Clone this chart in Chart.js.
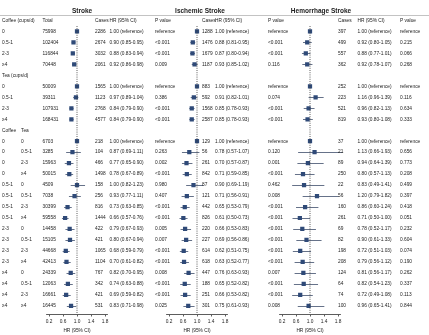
<!DOCTYPE html>
<html lang="en">
<head>
<meta charset="UTF-8">
<title>Coffee, tea and stroke</title>
<script src="https://cdn.jsdelivr.net/npm/chart.js"></script>
<style>
    body { margin: 0; background: #fff; }
    .wrap { position: relative; width: 429px; height: 335px; }
    canvas { position: absolute; left: 0; top: 0; }
</style>
</head>
<body>
<div class="wrap">
    <canvas id="p1" width="429" height="335"></canvas>
    <canvas id="p2" width="429" height="335"></canvas>
    <canvas id="p3" width="429" height="335"></canvas>
</div>
<script>
// row labels (row 0 is the column header line)
const labelA = ['Coffee (cups/d)', '0', '0.5-1', '2-3', '≥4', 'Tea (cups/d)', '0', '0.5-1', '2-3', '≥4', 'Coffee',
    '0', '0', '0', '0', '0.5-1', '0.5-1', '0.5-1', '0.5-1', '2-3', '2-3', '2-3', '2-3', '≥4', '≥4', '≥4', '≥4'];
const labelB = ['', '', '', '', '', '', '', '', '', '', 'Tea',
    '0', '0.5-1', '2-3', '≥4', '0', '0.5-1', '2-3', '≥4', '0', '0.5-1', '2-3', '≥4', '0', '0.5-1', '2-3', '≥4'];
const totals = ['Total', '75998', '102404', '116844', '70448', '', '50009', '39311', '107931', '168431', '',
    '6703', '3285', '15963', '50015', '4509', '7038', '30399', '59558', '14458', '15105', '44668', '42413',
    '24339', '12063', '16661', '16445'];

// rows that carry an estimate
const dataRows = [1, 2, 3, 4, 6, 7, 8, 9, 11, 12, 13, 14, 15, 16, 17, 18, 19, 20, 21, 22, 23, 24, 25, 26];

// Stroke
const strokeCases = [2286, 2674, 3032, 2061, 1565, 1123, 2768, 4577, 218, 104, 466, 1498, 158, 256, 816, 1444, 422, 421, 1065, 1104, 767, 342, 421, 531];
const strokeHR = [1.00, 0.90, 0.88, 0.92, 1.00, 0.97, 0.84, 0.84, 1.00, 0.87, 0.77, 0.78, 1.00, 0.93, 0.73, 0.66, 0.79, 0.80, 0.68, 0.70, 0.82, 0.74, 0.69, 0.83];
const strokeLo = [null, 0.85, 0.83, 0.86, null, 0.89, 0.79, 0.79, null, 0.69, 0.65, 0.67, 0.82, 0.77, 0.63, 0.57, 0.67, 0.67, 0.59, 0.61, 0.70, 0.63, 0.59, 0.71];
const strokeHi = [null, 0.95, 0.94, 0.98, null, 1.04, 0.90, 0.90, null, 1.11, 0.90, 0.89, 1.23, 1.11, 0.85, 0.76, 0.93, 0.94, 0.79, 0.82, 0.95, 0.88, 0.82, 0.98];
const strokeP = ['reference', '<0.001', '<0.001', '0.009', 'reference', '0.386', '<0.001', '<0.001', 'reference', '0.263', '0.002', '<0.001',
    '0.980', '0.407', '<0.001', '<0.001', '0.005', '0.007', '<0.001', '<0.001', '0.008', '<0.001', '<0.001', '0.025'];

// Ischemic stroke
const ischCases = [1288, 1476, 1679, 1187, 883, 592, 1568, 2587, 129, 56, 261, 842, 87, 121, 442, 826, 220, 227, 614, 618, 447, 188, 251, 301];
const ischHR = [1.00, 0.88, 0.87, 0.93, 1.00, 0.91, 0.85, 0.85, 1.00, 0.78, 0.70, 0.71, 0.90, 0.71, 0.65, 0.61, 0.66, 0.69, 0.62, 0.63, 0.76, 0.65, 0.66, 0.75];
const ischLo = [null, 0.81, 0.80, 0.85, null, 0.82, 0.78, 0.78, null, 0.57, 0.57, 0.59, 0.69, 0.56, 0.53, 0.50, 0.53, 0.56, 0.51, 0.52, 0.63, 0.52, 0.53, 0.61];
const ischHi = [null, 0.95, 0.94, 1.02, null, 1.01, 0.93, 0.93, null, 1.07, 0.87, 0.85, 1.19, 0.91, 0.79, 0.73, 0.83, 0.86, 0.75, 0.77, 0.93, 0.82, 0.82, 0.93];
const ischP = ['reference', '<0.001', '<0.001', '0.116', 'reference', '0.074', '<0.001', '<0.001', 'reference', '0.120', '0.001', '<0.001',
    '0.462', '0.008', '<0.001', '<0.001', '<0.001', '<0.001', '<0.001', '<0.001', '0.007', '<0.001', '<0.001', '0.008'];

// Hemorrhage stroke
const hemoCases = [397, 499, 557, 362, 252, 223, 521, 819, 37, 21, 89, 250, 22, 56, 160, 261, 69, 82, 198, 208, 124, 64, 74, 100];
const hemoHR = [1.00, 0.92, 0.88, 0.92, 1.00, 1.16, 0.96, 0.93, 1.00, 1.13, 0.94, 0.80, 0.83, 1.20, 0.86, 0.71, 0.78, 0.90, 0.72, 0.79, 0.81, 0.82, 0.72, 0.96];
const hemoLo = [null, 0.80, 0.77, 0.78, null, 0.96, 0.82, 0.80, null, 0.66, 0.64, 0.57, 0.49, 0.79, 0.60, 0.50, 0.52, 0.61, 0.51, 0.56, 0.56, 0.54, 0.49, 0.65];
const hemoHi = [null, 1.05, 1.01, 1.07, null, 1.39, 1.13, 1.08, null, 1.93, 1.39, 1.13, 1.41, 1.82, 1.24, 1.00, 1.17, 1.33, 1.03, 1.12, 1.17, 1.23, 1.08, 1.41];
const hemoP = ['reference', '0.215', '0.066', '0.268', 'reference', '0.116', '0.634', '0.333', 'reference', '0.656', '0.773', '0.208',
    '0.499', '0.397', '0.418', '0.051', '0.232', '0.604', '0.074', '0.190', '0.262', '0.337', '0.113', '0.844'];

const tickVals = [0.2, 0.6, 1.0, 1.4, 1.8];

Chart.defaults.font.family = '"Liberation Sans", Arial, sans-serif';
const FS = 4.8;
const navy = '#2f4a78';
const ink = '#222';

function hrText(hr, lo, hi) {
    if (lo === null) return '1.00 (reference)';
    return hr.toFixed(2) + ' (' + lo.toFixed(2) + '-' + hi.toFixed(2) + ')';
}

// cfg: canvas id, title, data, x positions of text columns, chart area
function makePanel(cfg) {
    const points = dataRows.map((r, i) => ({ x: cfg.hr[i], y: r, lo: cfg.lo[i], hi: cfg.hi[i] }));

    const ciBars = {
        id: 'ciBars',
        beforeDatasetsDraw(chart) {
            const { ctx, scales: { x, y } } = chart;
            ctx.save();
            ctx.strokeStyle = '#55627c';
            ctx.lineWidth = 0.9;
            points.forEach(p => {
                if (p.lo === null) return;
                const py = Math.round(y.getPixelForValue(p.y)) + 0.5;
                ctx.beginPath();
                ctx.moveTo(x.getPixelForValue(p.lo), py);
                ctx.lineTo(x.getPixelForValue(p.hi), py);
                ctx.stroke();
            });
            ctx.restore();
        }
    };

    const textCols = {
        id: 'textCols',
        afterDraw(chart) {
            const { ctx, scales: { y } } = chart;
            ctx.save();
            ctx.fillStyle = ink;
            ctx.textBaseline = 'middle';
            ctx.textAlign = 'left';
            ctx.font = FS + 'px "Liberation Sans", Arial, sans-serif';
            const hy = y.getPixelForValue(0);
            if (cfg.labels) {
                for (let r = 0; r < labelA.length; r++) {
                    const py = y.getPixelForValue(r);
                    ctx.fillText(labelA[r], cfg.labels[0], py);
                    if (labelB[r]) ctx.fillText(labelB[r], cfg.labels[1], py);
                    if (totals[r]) ctx.fillText(totals[r], cfg.labels[2], py);
                }
                ctx.strokeStyle = '#9a9a9a';
                ctx.lineWidth = 0.6;
                ctx.beginPath();
                ctx.moveTo(0, 15.5);
                ctx.lineTo(429, 15.5);
                ctx.stroke();
            }
            ctx.fillText('Cases', cfg.cols[0], hy);
            ctx.fillText('HR (95% CI)', cfg.cols[1], hy);
            ctx.fillText('P value', cfg.cols[2], hy);
            dataRows.forEach((r, i) => {
                const py = y.getPixelForValue(r);
                ctx.fillText(String(cfg.cases[i]), cfg.cols[0], py);
                ctx.fillText(hrText(cfg.hr[i], cfg.lo[i], cfg.hi[i]), cfg.cols[1], py);
                ctx.fillText(cfg.p[i], cfg.cols[2], py);
            });
            ctx.font = 'bold 6.5px "Liberation Sans", Arial, sans-serif';
            ctx.textAlign = 'center';
            ctx.fillText(cfg.title, cfg.titleX, 11);
            ctx.restore();
        }
    };

    return new Chart(document.getElementById(cfg.id), {
        type: 'scatter',
        data: {
            datasets: [
                {
                    type: 'line',
                    data: [{ x: 1, y: 0.5 }, { x: 1, y: 26.75 }],
                    borderColor: '#333',
                    borderWidth: 0.8,
                    borderDash: [1, 1.2],
                    pointRadius: 0
                },
                {
                    data: points,
                    pointStyle: 'rect',
                    pointRadius: 3,
                    backgroundColor: navy,
                    borderWidth: 0
                }
            ]
        },
        options: {
            responsive: false,
            animation: false,
            layout: { padding: { left: cfg.left, right: 429 - cfg.right, top: 26, bottom: 0 } },
            plugins: { legend: { display: false }, tooltip: { enabled: false } },
            scales: {
                x: {
                    type: 'linear',
                    min: 0.12,
                    max: 1.88,
                    afterBuildTicks: s => { s.ticks = tickVals.map(v => ({ value: v })); },
                    afterFit: s => { s.height = 21; },
                    grid: { drawOnChartArea: false, tickLength: 2.5, color: '#333', lineWidth: 0.8 },
                    border: { color: '#333', width: 0.8 },
                    ticks: { font: { size: FS }, color: ink, padding: 2, maxRotation: 0, callback: v => v.toFixed(1) },
                    title: { display: true, text: 'HR (95% CI)', color: ink, font: { size: FS }, padding: { top: 0, bottom: 1 } }
                },
                y: { type: 'linear', display: false, min: 0.5, max: 26.75, reverse: true }
            }
        },
        plugins: [ciBars, textCols]
    });
}

makePanel({
    id: 'p1', title: 'Stroke', titleX: 82,
    cases: strokeCases, hr: strokeHR, lo: strokeLo, hi: strokeHi, p: strokeP,
    labels: [2, 21, 42.5], cols: [95, 109.5, 155],
    left: 46.2, right: 107.8
});
makePanel({
    id: 'p2', title: 'Ischemic Stroke', titleX: 200,
    cases: ischCases, hr: ischHR, lo: ischLo, hi: ischHi, p: ischP,
    labels: null, cols: [202, 215, 268],
    left: 166.2, right: 227.8
});
makePanel({
    id: 'p3', title: 'Hemorrhage Stroke', titleX: 321,
    cases: hemoCases, hr: hemoHR, lo: hemoLo, hi: hemoHi, p: hemoP,
    labels: null, cols: [338, 357.5, 400],
    left: 279.2, right: 340.8
});
</script>
</body>
</html>
